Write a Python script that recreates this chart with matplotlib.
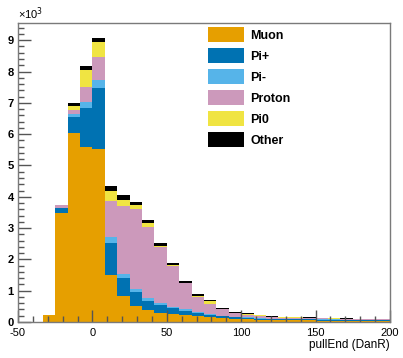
import matplotlib

matplotlib.use("Agg")
import matplotlib.pyplot as plt
import numpy as np
from matplotlib.patches import Patch
from matplotlib.ticker import MultipleLocator

plt.rcParams["font.family"] = ["Liberation Sans", "DejaVu Sans"]
plt.rcParams["axes.unicode_minus"] = False

# 30 bins from -50 to 200
bin_edges = np.linspace(-50, 200, 31)

species = ["Muon", "Pi+", "Pi-", "Proton", "Pi0", "Other"]
colors = ["#E69F00", "#0072B2", "#56B4E9", "#CC99BB", "#F0E442", "#000000"]

muon = [0, 0, 220, 3490, 6030, 5600, 5520, 1500, 830, 510, 380, 300, 250, 210, 180,
        150, 120, 100, 90, 75, 65, 60, 55, 50, 45, 45, 40, 38, 35, 35]
pi_plus = [0, 0, 0, 140, 530, 1230, 1950, 1030, 570, 460, 300, 240, 190, 150, 100,
           80, 60, 50, 40, 35, 30, 30, 30, 30, 30, 28, 27, 25, 22, 22]
pi_minus = [0, 0, 0, 20, 90, 210, 260, 200, 130, 70, 80, 60, 40, 40, 30,
            25, 20, 15, 15, 10, 10, 10, 10, 10, 8, 7, 7, 6, 6, 6]
proton = [0, 0, 0, 80, 120, 460, 730, 1150, 2180, 2560, 2290, 1790, 1310, 830, 500,
          330, 200, 110, 90, 65, 45, 40, 35, 30, 30, 25, 22, 20, 18, 18]
pi0 = [0, 0, 0, 0, 130, 550, 480, 320, 190, 140, 100, 40, 30, 30, 30,
       80, 20, 20, 25, 30, 25, 15, 20, 20, 17, 15, 14, 12, 10, 10]
other = [0, 0, 0, 0, 90, 140, 120, 150, 160, 80, 110, 80, 50, 40, 40,
         35, 30, 25, 20, 15, 15, 15, 10, 10, 10, 10, 10, 9, 9, 9]

series = [muon, pi_plus, pi_minus, proton, pi0, other]

W, H = 403, 358
fig = plt.figure(figsize=(W / 100, H / 100), dpi=100)
ax = fig.add_axes([18 / W, 36 / H, 372 / W, 299 / H])

widths = np.diff(bin_edges)
bottom = np.zeros(len(widths))
for vals, c in zip(series, colors):
    vals = np.asarray(vals, dtype=float)
    ax.bar(bin_edges[:-1], vals, width=widths, bottom=bottom, align="edge",
           color=c, linewidth=0)
    bottom += vals

ax.set_xlim(-50, 200)
ax.set_ylim(0, 9550)

frame_col = "#7a7a7a"
for s in ax.spines.values():
    s.set_color(frame_col)
    s.set_linewidth(1.0)

ax.xaxis.set_major_locator(MultipleLocator(50))
ax.xaxis.set_minor_locator(MultipleLocator(10))
ax.yaxis.set_major_locator(MultipleLocator(1000))
ax.yaxis.set_minor_locator(MultipleLocator(200))
ax.tick_params(which="both", direction="in", colors="#555555", top=False, right=False,
               labelsize=8)
ax.tick_params(which="major", length=9, width=1)
ax.tick_params(which="minor", length=4.5, width=1)
ax.tick_params(axis="x", pad=4, labelcolor="black")
ax.tick_params(axis="y", pad=3, labelcolor="black")
ax.yaxis.set_major_formatter(plt.FuncFormatter(lambda v, p: f"{v / 1000:g}"))
for lbl in ax.get_yticklabels():
    lbl.set_fontweight("bold")

ax.text(0.0, 1.005, "×10$^3$", transform=ax.transAxes, fontsize=8,
        ha="left", va="bottom")
ax.set_xlabel("pullEnd (DanR)", fontsize=8.5, loc="right", labelpad=1)

handles = [Patch(facecolor=c, edgecolor="none") for c in colors]
ax.legend(handles, species, loc="upper left",
          bbox_to_anchor=(208 / W, 1 - 27 / H), bbox_transform=fig.transFigure,
          frameon=False, prop={"size": 9, "weight": "bold"}, borderpad=0,
          handlelength=2.9, handleheight=1.5, handletextpad=0.5,
          labelspacing=0.46, borderaxespad=0)

fig.savefig("out.png", dpi=100)
